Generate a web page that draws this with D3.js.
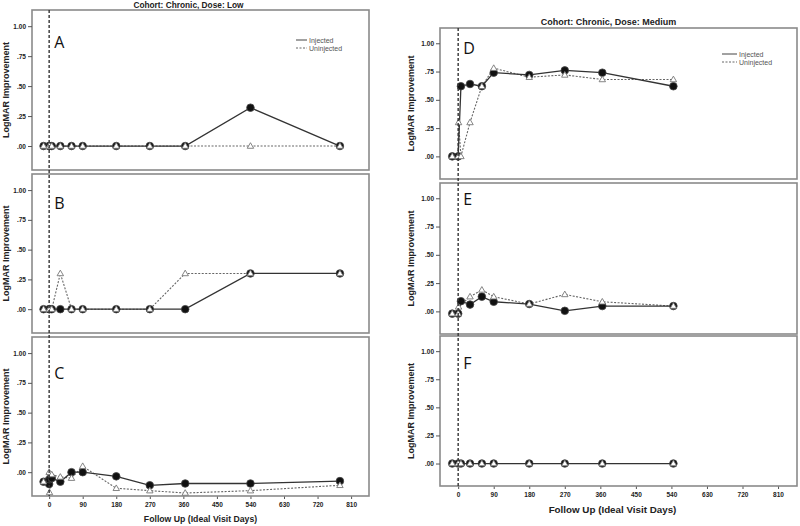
<!DOCTYPE html>
<html>
<head>
<meta charset="utf-8">
<script src="https://cdn.jsdelivr.net/npm/d3@7"></script>
<style>
  body { margin: 0; background: #fff; }
  svg { display: block; font-family: "Liberation Sans", Arial, sans-serif; }
</style>
</head>
<body>
<div id="canvas"></div>
<script>
// visit days (ideal), one list per cohort column
var daysLow = [-15, 0, 1, 7, 30, 60, 90, 180, 270, 365, 540, 780];
var daysMed = [-15, 0, 1, 7, 30, 60, 90, 180, 270, 365, 545];

// LogMAR improvement, null = no visit
var injA   = [0, 0, 0, 0, 0, 0, 0, 0, 0, 0, 0.32, 0];
var uninjA = [0, 0, 0, 0, 0, 0, 0, 0, 0, 0, 0, 0];
var injB   = [0, 0, 0, 0, 0, 0, 0, 0, 0, 0, 0.30, 0.30];
var uninjB = [0, 0, 0, 0, 0.30, 0, 0, 0, 0, 0.30, 0.30, 0.30];
var injC   = [-0.08, -0.10, -0.06, -0.05, -0.08, 0.0, 0.0, -0.035, -0.11, -0.095, -0.095, -0.075];
var uninjC = [-0.08, 0.0, -0.17, -0.02, -0.04, -0.05, 0.05, -0.135, -0.155, -0.175, -0.155, -0.11];
var injD   = [0, 0, null, 0.62, 0.64, 0.62, 0.74, 0.72, 0.76, 0.74, 0.62];
var uninjD = [0, 0, 0.30, 0, 0.30, 0.62, 0.78, 0.70, 0.72, 0.68, 0.68];
var injE   = [-0.02, -0.02, null, 0.09, 0.06, 0.13, 0.085, 0.065, 0.005, 0.047, 0.047];
var uninjE = [-0.02, -0.02, 0.04, null, 0.13, 0.19, 0.13, 0.065, 0.15, 0.085, 0.047];
var injF   = [0, 0, null, 0, 0, 0, 0, 0, 0, 0, 0];
var uninjF = [0, 0, null, 0, 0, 0, 0, 0, 0, 0, 0];

var xTicks = [0, 90, 180, 270, 360, 450, 540, 630, 720, 810];
var yTicks = [0, 0.25, 0.5, 0.75, 1];
var titles = ["Cohort: Chronic, Dose: Low", "Cohort: Chronic, Dose: Medium"];
var seriesNames = ["Injected", "Uninjected"];

var width = 800, height = 526;

var cols = [
    { x0: 32, x1: 369, titleY: 8, titleSize: 8.3, axisSize: 8.7, yTitleX: 6, xLabY: 506, xTitleY: 522, legX: 296, legY: 40, legW: 11 },
    { x0: 440, x1: 797, titleY: 25, titleSize: 9, axisSize: 9.8, yTitleX: 411, xLabY: 497, xTitleY: 513, legX: 722, legY: 54, legW: 15 }
];

var panels = [
    { id: "A", col: 0, top: 10,  bottom: 170, days: daysLow, inj: injA, uninj: uninjA, letterDy: 38 },
    { id: "B", col: 0, top: 174, bottom: 333, days: daysLow, inj: injB, uninj: uninjB, letterDy: 35 },
    { id: "C", col: 0, top: 337, bottom: 496, days: daysLow, inj: injC, uninj: uninjC, letterDy: 42 },
    { id: "D", col: 1, top: 28,  bottom: 179, days: daysMed, inj: injD, uninj: uninjD, letterDy: 26 },
    { id: "E", col: 1, top: 183, bottom: 334, days: daysMed, inj: injE, uninj: uninjE, letterDy: 22 },
    { id: "F", col: 1, top: 336, bottom: 486, days: daysMed, inj: injF, uninj: uninjF, letterDy: 33 }
];

var svg = d3.select("#canvas")
    .append("svg")
    .attr("width", width)
    .attr("height", height);

var fmtY = function(d) { return d3.format(".2f")(d).replace(/^0/, ""); };
var tri = d3.symbol().type(d3.symbolTriangle).size(18);

cols.forEach(function(c, ci) {
    var x = d3.scaleLinear().domain([-46, 858]).range([c.x0, c.x1]);
    c.x = x;
    var colPanels = panels.filter(function(p) { return p.col === ci; });
    var last = colPanels[colPanels.length - 1];

    svg.append("text")
        .attr("x", (c.x0 + c.x1) / 2 - (ci === 0 ? 12 : 10))
        .attr("y", c.titleY)
        .attr("text-anchor", "middle")
        .style("font-size", c.titleSize + "px")
        .style("font-weight", "bold")
        .style("fill", "#222")
        .text(titles[ci]);

    // x axis under the bottom panel
    var xAxis = d3.axisBottom(x).tickValues(xTicks).tickSize(3).tickPadding(3);
    var gx = svg.append("g")
        .attr("transform", "translate(0," + last.bottom + ")")
        .call(xAxis);
    gx.select(".domain").remove();
    gx.selectAll("line").attr("stroke", "#555");
    gx.selectAll("text")
        .style("font-size", "6.5px")
        .style("font-weight", "bold")
        .style("fill", "#222");

    svg.append("text")
        .attr("x", (c.x0 + c.x1) / 2 + (ci === 0 ? 0 : -6))
        .attr("y", c.xTitleY)
        .attr("text-anchor", "middle")
        .style("font-size", c.axisSize + "px")
        .style("font-weight", "bold")
        .style("fill", "#222")
        .text("Follow Up (Ideal Visit Days)");
});

panels.forEach(function(p) {
    var c = cols[p.col];
    var x = c.x;
    var y = d3.scaleLinear().domain([-0.2, 1.135]).range([p.bottom, p.top]);
    var g = svg.append("g");

    g.append("rect")
        .attr("x", c.x0).attr("y", p.top)
        .attr("width", c.x1 - c.x0).attr("height", p.bottom - p.top)
        .attr("fill", "none")
        .attr("stroke", "#8a8a8a")
        .attr("stroke-width", 1.6);

    var yAxis = d3.axisLeft(y).tickValues(yTicks).tickFormat(fmtY).tickSize(4).tickPadding(2);
    var gy = g.append("g")
        .attr("transform", "translate(" + c.x0 + ",0)")
        .call(yAxis);
    gy.select(".domain").remove();
    gy.selectAll("line").attr("stroke", "#555");
    gy.selectAll("text")
        .style("font-size", "6.5px")
        .style("font-weight", "bold")
        .style("fill", "#222");

    g.append("text")
        .attr("transform", "translate(" + (c.yTitleX + 3) + "," + ((p.top + p.bottom) / 2) + ") rotate(-90)")
        .attr("text-anchor", "middle")
        .style("font-size", "9px")
        .style("font-weight", "bold")
        .style("fill", "#222")
        .text("LogMAR Improvement");

    g.append("text")
        .attr("x", x(0) + 5)
        .attr("y", p.top + p.letterDy)
        .style("font-family", "'Open Sans', 'DejaVu Sans', sans-serif")
        .style("font-size", "16px")
        .style("fill", "#111")
        .text(p.id);

    var pts = function(vals) {
        return vals.map(function(v, i) { return { day: p.days[i], v: v }; });
    };
    var line = d3.line()
        .defined(function(d) { return d.v !== null; })
        .x(function(d) { return x(d.day); })
        .y(function(d) { return y(d.v); });

    var uData = pts(p.uninj), iData = pts(p.inj);

    g.append("path")
        .datum(uData.filter(function(d) { return d.v !== null; }))
        .attr("d", line)
        .attr("fill", "none")
        .attr("stroke", "#666")
        .attr("stroke-width", 1.1)
        .attr("stroke-dasharray", "2,1.5");

    g.append("path")
        .datum(iData.filter(function(d) { return d.v !== null; }))
        .attr("d", line)
        .attr("fill", "none")
        .attr("stroke", "#333")
        .attr("stroke-width", 1.3);

    g.selectAll(".inj")
        .data(iData.filter(function(d) { return d.v !== null; }))
        .enter().append("circle")
        .attr("cx", function(d) { return x(d.day); })
        .attr("cy", function(d) { return y(d.v); })
        .attr("r", 3.8)
        .attr("fill", "#111")
        .attr("stroke", "#444")
        .attr("stroke-width", 0.8);

    g.selectAll(".uninj")
        .data(uData.filter(function(d) { return d.v !== null; }))
        .enter().append("path")
        .attr("d", tri)
        .attr("transform", function(d) { return "translate(" + x(d.day) + "," + (y(d.v) + 0.4) + ")"; })
        .attr("fill", "#fff")
        .attr("stroke", "#777")
        .attr("stroke-width", 0.9);
});

// vertical reference line at day 0 through each column
cols.forEach(function(c, ci) {
    var colPanels = panels.filter(function(p) { return p.col === ci; });
    svg.append("line")
        .attr("x1", c.x(0)).attr("x2", c.x(0))
        .attr("y1", colPanels[0].top)
        .attr("y2", colPanels[colPanels.length - 1].bottom)
        .attr("stroke", "#333")
        .attr("stroke-width", 1.4)
        .attr("stroke-dasharray", "3,2");

    // legend in the top panel
    var lg = svg.append("g");
    seriesNames.forEach(function(name, i) {
        var ly = c.legY + i * 8;
        lg.append("line")
            .attr("x1", c.legX).attr("x2", c.legX + c.legW)
            .attr("y1", ly).attr("y2", ly)
            .attr("stroke", i === 0 ? "#444" : "#666")
            .attr("stroke-width", 1)
            .attr("stroke-dasharray", i === 0 ? null : "2,1.5");
        lg.append("text")
            .attr("x", c.legX + c.legW + 2)
            .attr("y", ly + 2.5)
            .style("font-size", "7px")
            .style("fill", "#555")
            .text(name);
    });
});
</script>
</body>
</html>
